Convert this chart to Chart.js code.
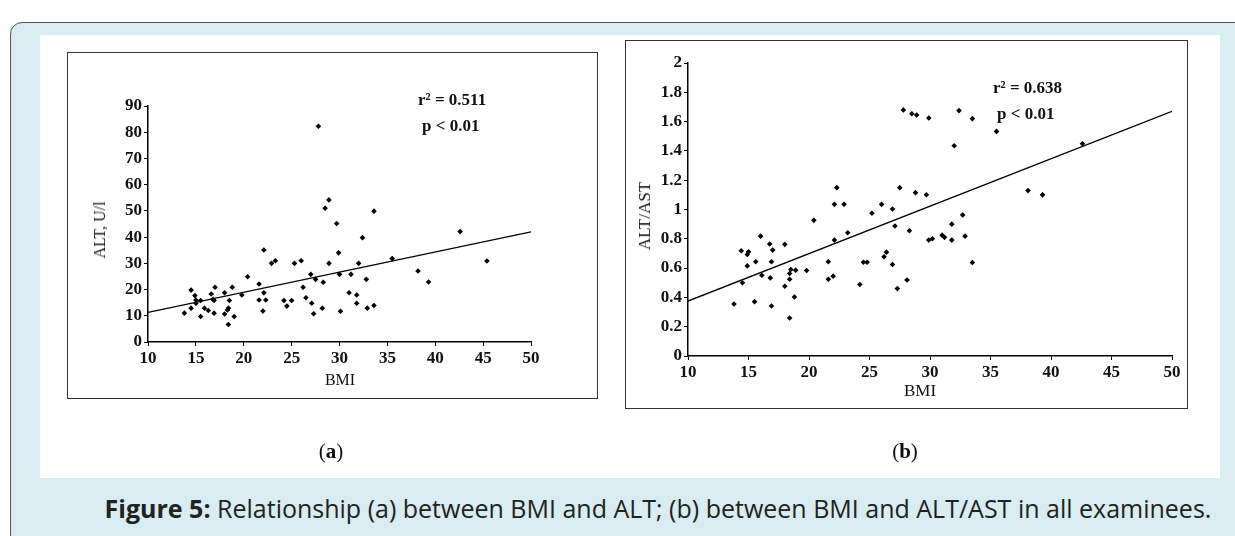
<!DOCTYPE html>
<html>
<head>
<meta charset="utf-8">
<script src="https://cdn.jsdelivr.net/npm/chart.js@4/dist/chart.umd.min.js"></script>
<style>
	body{margin:0;width:1235px;height:536px;overflow:hidden;background:#fff;position:relative;font-family:"Liberation Serif",serif;}
	.outer{position:absolute;left:10px;top:22px;width:1300px;height:600px;border:1.5px solid #555;border-radius:12px;background:#d8ecf1;}
	.panel{position:absolute;left:40px;top:35px;width:1180px;height:443px;background:#fff;}
	.frame{position:absolute;border:1.5px solid #333;box-sizing:border-box;}
	canvas{position:absolute;}
	.txt{position:absolute;white-space:nowrap;color:#111;}
	.note{font-weight:bold;font-size:17px;}
	.ttl{font-size:16px;transform:translate(-50%,-50%);}
	.rot{transform:translate(-50%,-50%) rotate(-90deg);}
	.sub{font-size:21px;transform:translate(-50%,-50%);}
	.cap{font-family:"Open Sans",sans-serif;font-size:25px;color:#222;left:658px;top:508px;transform:translate(-50%,-50%);}
</style>
</head>
<body>
<div class="outer"></div>
<div class="panel"></div>
<div class="frame" style="left:67px;top:52px;width:531px;height:347px;"></div>
<div class="frame" style="left:625px;top:40px;width:563px;height:369px;"></div>
<canvas id="chartA" width="530" height="346" style="left:67px;top:52px;"></canvas>
<canvas id="chartB" width="562" height="368" style="left:625px;top:40px;"></canvas>

<div class="txt note" style="left:418px;top:90px;">r² = 0.511</div>
<div class="txt note" style="left:422px;top:116px;">p &lt; 0.01</div>
<div class="txt note" style="left:993px;top:78px;">r² = 0.638</div>
<div class="txt note" style="left:997px;top:104px;">p &lt; 0.01</div>

<div class="txt ttl rot" style="left:100px;top:230px;">ALT, U/l</div>
<div class="txt ttl" style="left:340px;top:380px;">BMI</div>
<div class="txt ttl rot" style="left:645px;top:216px;font-size:17px;">ALT/AST</div>
<div class="txt ttl" style="left:920px;top:391px;font-size:17px;">BMI</div>

<div class="txt sub" style="left:331px;top:451px;">(<b>a</b>)</div>
<div class="txt sub" style="left:905px;top:451px;">(<b>b</b>)</div>
<div class="txt cap"><b>Figure 5:</b> Relationship (a) between BMI and ALT; (b) between BMI and ALT/AST in all examinees.</div>

<script>
// panel (a): BMI vs ALT
let bmiA = [13.8,14.5,14.5,14.9,15.0,15.0,15.5,15.5,15.9,16.3,16.6,16.8,16.9,17.0,16.9,18.0,18.0,18.3,18.4,18.5,18.4,18.8,19.0,19.8,20.4,21.6,21.6,22.1,22.1,22.3,22.0,22.9,23.3,
	24.2,24.5,25.0,25.3,26.0,26.2,26.5,27.0,27.1,27.3,27.5,28.2,28.3,28.5,28.9,28.9,29.7,29.9,30.0,30.1,31.0,31.2,31.8,31.8,32.0,32.4,32.8,32.9,33.6,33.6,35.5,38.2,39.3,42.6,45.4,27.8];
let altA = [11.0,19.8,12.9,17.7,16.0,14.8,15.8,9.7,12.9,12.0,18.3,16.3,15.8,20.9,11.0,18.8,10.7,12.2,12.9,15.8,6.7,20.9,9.7,17.9,24.9,22.1,16.0,35.1,18.8,16.0,11.8,30.0,31.0,
	15.8,13.7,15.8,30.0,31.0,20.9,16.9,25.8,14.8,10.8,23.9,12.9,22.8,51.0,54.2,30.0,45.2,34.0,25.8,11.7,18.8,25.8,17.9,14.8,30.0,39.8,23.9,12.9,49.9,13.9,31.8,27.1,22.9,42.1,30.9,82.3];
let fitBmiA = [10, 50];
let fitAltA = [11.3, 42];

// panel (b): BMI vs ALT/AST
let bmiB = [13.8,14.4,14.5,14.9,14.9,15.0,15.5,15.6,16.0,16.1,16.75,16.8,16.9,16.9,17.0,18.0,18.0,18.4,18.4,18.4,18.5,18.8,18.9,19.8,20.4,21.6,21.6,22.0,22.1,22.1,22.3,22.9,23.2,
	24.2,24.5,24.8,25.2,26.0,26.2,26.4,26.9,26.9,27.1,27.3,27.5,28.1,28.3,28.8,29.7,29.9,30.2,27.8,28.5,28.9,29.9,32.4,33.5,35.5,32.0,32.7,31.8,31.0,31.2,31.8,32.9,33.5,38.1,39.3,42.6];
let ratioB = [0.355,0.718,0.50,0.615,0.693,0.711,0.371,0.643,0.818,0.551,0.764,0.533,0.643,0.341,0.723,0.762,0.476,0.259,0.524,0.563,0.590,0.403,0.586,0.584,0.926,0.643,0.524,0.545,0.791,1.035,1.149,1.035,0.841,
	0.488,0.640,0.640,0.974,1.035,0.677,0.709,1.003,0.625,0.887,0.460,1.149,0.519,0.855,1.115,1.101,0.791,0.80,1.68,1.654,1.645,1.625,1.675,1.62,1.533,1.435,0.962,0.90,0.825,0.81,0.791,0.818,0.638,1.129,1.10,1.449];
let fitBmiB = [10, 50];
let fitRatioB = [0.375, 1.67];

function toPoints(xs, ys){
	let pts = [];
	for(let i in xs){
		pts.push({x: xs[i], y: ys[i]});
	}
	return pts;
}

let tickFont = {family: "Liberation Serif", size: 17, weight: "bold"};

function makeChart(id, xs, ys, fx, fy, yMax, yStep, pad, yWidth, xHeight, yFmt){
	return new Chart(document.getElementById(id), {
		type: 'scatter',
		data: {
			datasets: [{
				data: toPoints(xs, ys),
				pointStyle: 'rectRot',
				pointRadius: 2.8,
				backgroundColor: '#000',
				borderColor: '#000',
				borderWidth: 0
			}, {
				data: toPoints(fx, fy),
				showLine: true,
				borderColor: '#000',
				borderWidth: 1.4,
				pointRadius: 0
			}]
		},
		options: {
			responsive: false,
			animation: false,
			layout: {padding: pad},
			plugins: {legend: {display: false}, tooltip: {enabled: false}},
			scales: {
				x: {
					type: 'linear', min: 10, max: 50,
					ticks: {stepSize: 5, color: '#111', font: tickFont, padding: 2},
					grid: {drawOnChartArea: false, color: '#000', tickLength: 4},
					border: {color: '#000', width: 1.5},
					afterFit: function(s){ s.height = xHeight; }
				},
				y: {
					min: 0, max: yMax,
					ticks: {stepSize: yStep, color: '#111', font: tickFont, padding: 2, callback: yFmt},
					grid: {drawOnChartArea: false, color: '#000', tickLength: 4},
					border: {color: '#000', width: 1.5},
					afterFit: function(s){ s.width = yWidth; }
				}
			}
		}
	});
}

makeChart('chartA', bmiA, altA, fitBmiA, fitAltA, 90, 10, {left: 0, top: 54, right: 66, bottom: 0}, 81, 56, function(v){ return v; });
makeChart('chartB', bmiB, ratioB, fitBmiB, fitRatioB, 2, 0.2, {left: 0, top: 23, right: 15, bottom: 0}, 63, 52, function(v){ return String(Math.round(v*10)/10); });
</script>
</body>
</html>
